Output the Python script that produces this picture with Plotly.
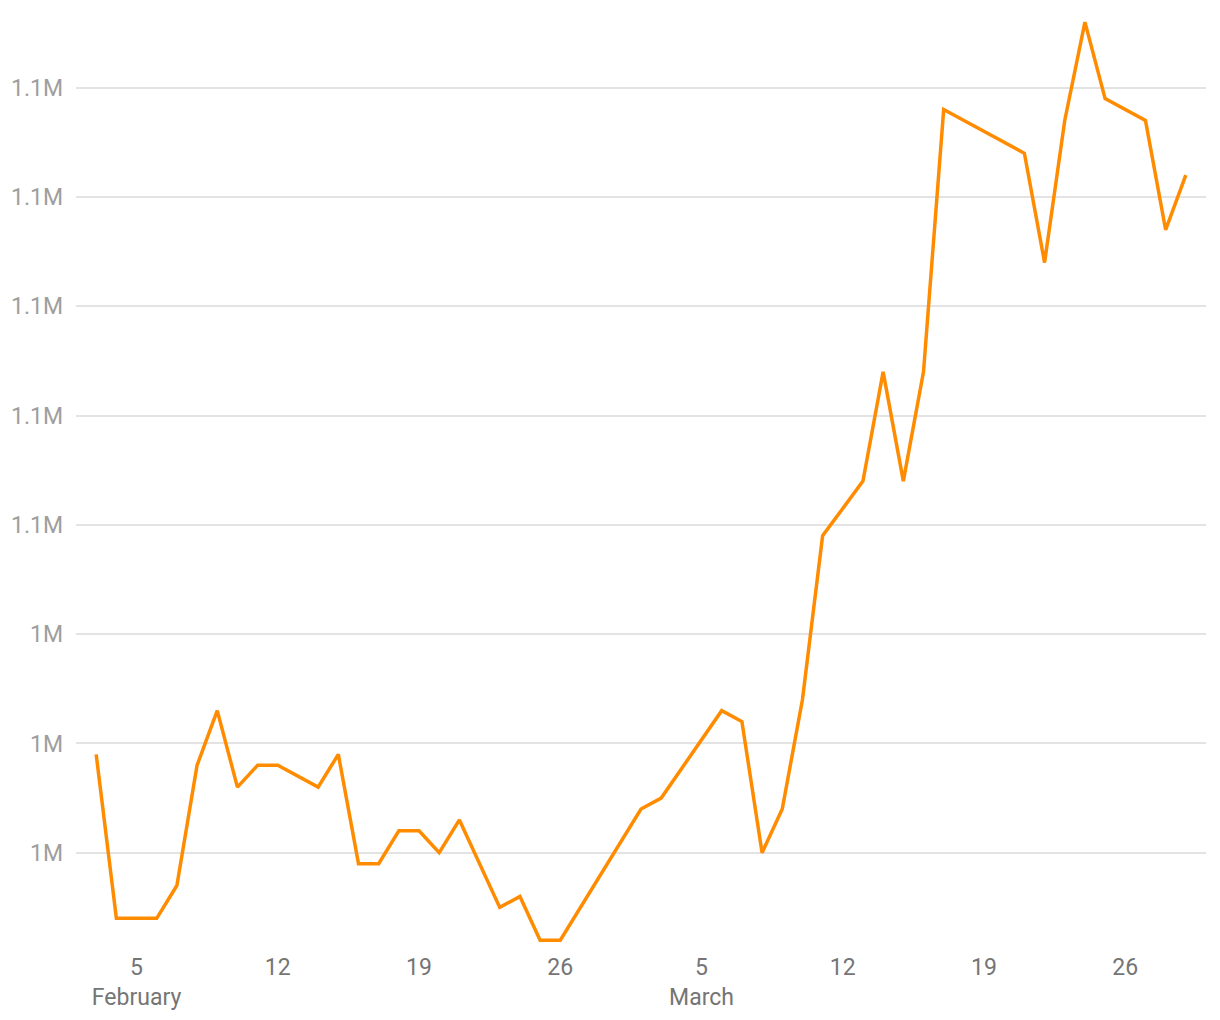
import plotly.graph_objects as go

dates = [
    "2023-02-03", "2023-02-04", "2023-02-05", "2023-02-06", "2023-02-07", "2023-02-08",
    "2023-02-09", "2023-02-10", "2023-02-11", "2023-02-12", "2023-02-14", "2023-02-15",
    "2023-02-16", "2023-02-17", "2023-02-18", "2023-02-19", "2023-02-20", "2023-02-21",
    "2023-02-23", "2023-02-24", "2023-02-25", "2023-02-26", "2023-03-02", "2023-03-03",
    "2023-03-06", "2023-03-07", "2023-03-08", "2023-03-09", "2023-03-10", "2023-03-11",
    "2023-03-13", "2023-03-14", "2023-03-15", "2023-03-16", "2023-03-17", "2023-03-21",
    "2023-03-22", "2023-03-23", "2023-03-24", "2023-03-25", "2023-03-27", "2023-03-28",
    "2023-03-29",
]
values = [
    1029000, 1014000, 1014000, 1014000, 1017000, 1028000,
    1033000, 1026000, 1028000, 1028000, 1026000, 1029000,
    1019000, 1019000, 1022000, 1022000, 1020000, 1023000,
    1015000, 1016000, 1012000, 1012000, 1024000, 1025000,
    1033000, 1032000, 1020000, 1024000, 1034000, 1049000,
    1054000, 1064000, 1054000, 1064000, 1088000, 1084000,
    1074000, 1087000, 1096000, 1089000, 1087000, 1077000,
    1082000,
]

x_tick_vals = ["2023-02-05", "2023-02-12", "2023-02-19", "2023-02-26",
               "2023-03-05", "2023-03-12", "2023-03-19", "2023-03-26"]
x_tick_text = ["5<br>February", "12", "19", "26", "5<br>March", "12", "19", "26"]

y_tick_vals = [1020000, 1030000, 1040000, 1050000, 1060000, 1070000, 1080000, 1090000]

fig = go.Figure()
fig.add_trace(go.Scatter(
    x=dates, y=values, mode="lines",
    line=dict(color="#FF8C00", width=3.5),
    hoverinfo="x+y",
))

fig.update_layout(
    width=1220, height=1020,
    margin=dict(l=68, r=22, t=2, b=78),
    paper_bgcolor="white", plot_bgcolor="white",
    font=dict(family="Roboto", size=23, color="#757575"),
    showlegend=False,
)
fig.update_xaxes(
    type="date",
    range=["2023-02-02", "2023-03-30"],
    tickmode="array", tickvals=x_tick_vals, ticktext=x_tick_text,
    showgrid=False, zeroline=False, showline=False,
    ticks="", ticklabelstandoff=1,
    tickfont=dict(color="#757575", size=23),
)
fig.update_yaxes(
    range=[1011100, 1097110],
    tickmode="array", tickvals=y_tick_vals, tickformat=".2~s",
    showgrid=True, gridcolor="#e3e3e3", gridwidth=1.5,
    zeroline=False, showline=False, ticks="", ticklabelstandoff=12,
    tickfont=dict(color="#9e9e9e", size=23),
)

fig.write_html("out.html")
